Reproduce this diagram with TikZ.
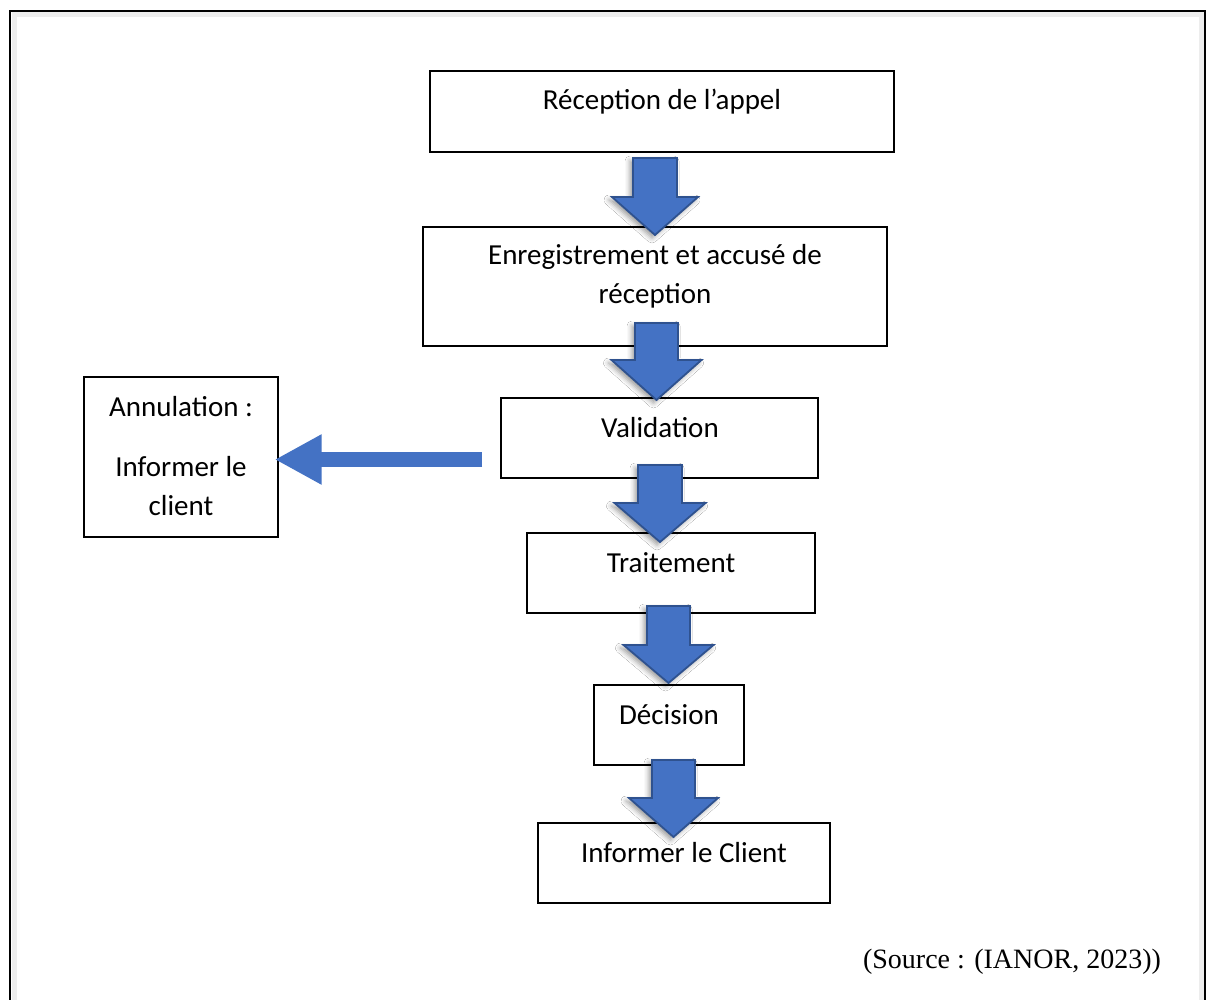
\documentclass[tikz,border=0pt]{standalone}
\usepackage{fontspec}
\setmainfont{Carlito}
\newfontfamily\srcfont{Liberation Serif}
\usetikzlibrary{arrows.meta,shadows.blur}
\definecolor{arrowfill}{HTML}{4472C4}
\definecolor{arrowedge}{HTML}{2F528F}
\tikzset{
  box/.style={draw=black, line width=1.4pt, fill=white, inner sep=0pt},
  txt/.style={anchor=base, inner sep=0pt, font=\fontsize{29}{39}\selectfont},
  blockarrow/.style={fill=arrowfill, draw=arrowedge, line width=1.8pt, line join=miter,
    blur shadow={shadow xshift=-3pt, shadow yshift=-3pt, shadow blur radius=5pt, shadow opacity=40}},
}
\newcommand{\blkarrow}[6]{%
  \draw[blockarrow] ({#1-#5},#2) -- ({#1+#5},#2) -- ({#1+#5},#3) -- ({#1+#6},#3)
    -- (#1,#4) -- ({#1-#6},#3) -- ({#1-#5},#3) -- cycle;}
\begin{document}
\begin{tikzpicture}[x=1pt,y=-1pt]
\useasboundingbox (0,0) rectangle (1210,1000);
\fill[white] (0,0) rectangle (1210,1000);
% outer frame
\draw[black!7, line width=5pt] (14,1000) -- (14,15) -- (1201,15) -- (1201,1000);
\draw[line width=2.6pt] (10,1000) -- (10,11) -- (1205,11) -- (1205,1000);
% boxes
\node[box, minimum width=464pt, minimum height=81pt] (b1) at (662,111.5) {};
\node[box, minimum width=464pt, minimum height=119pt] (b2) at (655,286.5) {};
\node[box, minimum width=317pt, minimum height=80pt] (b3) at (659.5,438) {};
\node[box, minimum width=288pt, minimum height=80pt] (b4) at (671,573) {};
\node[box, minimum width=150pt, minimum height=80pt] (b5) at (669,725) {};
\node[box, minimum width=292pt, minimum height=80pt] (b6) at (684,863) {};
\node[box, minimum width=194pt, minimum height=160pt] (ann) at (181,457) {};
% texts
\node[txt] (t1) at (662,110) {Réception de l’appel};
\node[txt] (t2a) at (655,265) {Enregistrement et accusé de};
\node[txt] (t2b) at (655,304) {réception};
\node[txt] (t3) at (660,437) {Validation};
\node[txt] (t4) at (671,572) {Traitement};
\node[txt] (t5) at (669,724) {Décision};
\node[txt] (t6) at (684,862) {Informer le Client};
\node[txt] (ta) at (181,416) {Annulation :};
\node[txt] (tb) at (181,476) {Informer le};
\node[txt] (tc) at (181,515) {client};
% block arrows
\blkarrow{655}{158}{197}{235}{22}{43}
\blkarrow{656.5}{323}{360}{400}{21.5}{45}
\blkarrow{660}{465}{503}{542}{22}{45.5}
\blkarrow{668.5}{606}{645}{683}{21.5}{45}
\blkarrow{673.5}{760}{798}{837}{21.5}{44.5}
% left arrow
\coordinate (la) at (482,459.5);
\draw[arrowfill, line width=15pt, -{Triangle[length=47pt,width=47pt]}] (la) -- ([xshift=-4pt]ann.east |- la);
% source
\node[anchor=base, inner sep=0pt, font=\srcfont\fontsize{28}{34}\selectfont] (src) at (1012,968) {(Source : (IANOR, 2023))};
\end{tikzpicture}
\end{document}
